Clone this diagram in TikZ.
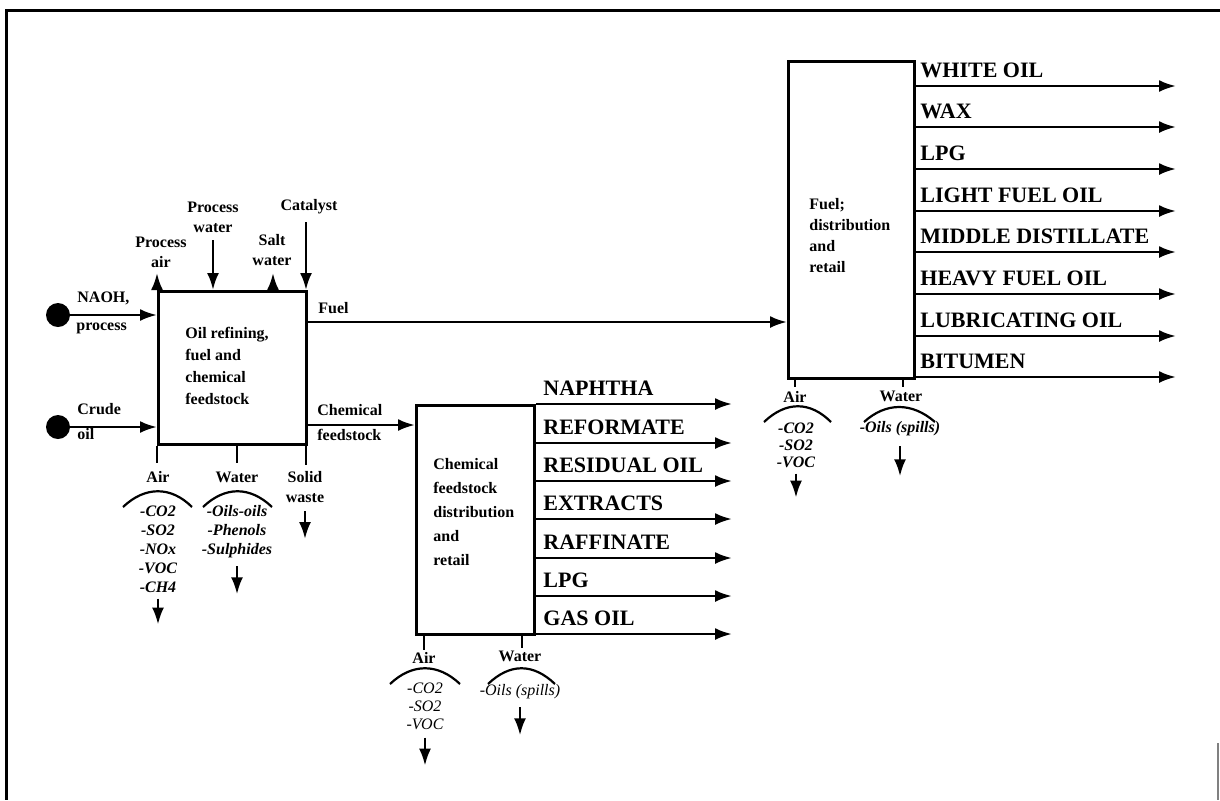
\documentclass[tikz,border=0pt]{standalone}
\usepackage{fontspec}
\setmainfont{Liberation Serif}
\usetikzlibrary{arrows.meta}
\begin{document}
\begin{tikzpicture}[x=0.5pt,y=-0.5pt,
  arr/.style={line width=1.3pt,-{Latex[length=8.5pt,width=6pt]}},
  ln/.style={line width=1.3pt},
  arcl/.style={line width=1.1pt},
  box/.style={draw,line width=1.5pt,rectangle,anchor=north west,inner sep=0pt},
  big/.style={font=\bfseries\fontsize{11}{13}\selectfont,anchor=base west,inner sep=0pt},
  lab/.style={font=\bfseries\fontsize{8}{10}\selectfont,align=center,inner sep=0pt},
  boxtxt/.style={font=\bfseries\fontsize{8}{11}\selectfont,align=left,anchor=north west,inner sep=0pt},
  emis/.style={font=\bfseries\itshape\fontsize{8}{9.5}\selectfont,align=center,anchor=north,inner sep=0pt},
  emisr/.style={font=\itshape\fontsize{8}{9}\selectfont,align=center,anchor=north,inner sep=0pt},
  dot/.style={circle,fill,inner sep=0pt,minimum size=12pt},
]
\useasboundingbox (0,0) rectangle (1220,800);
% frame
\draw[line width=1.5pt] (1220,10) -- (6,10) -- (6,800);
\draw[gray,line width=0.8pt] (1218,743) -- (1218,800);

% boxes
\node[box,minimum width=74pt,minimum height=76.5pt] (b1) at (157,290) {};
\node[box,minimum width=59pt,minimum height=114.5pt] (b2) at (415,404) {};
\node[box,minimum width=63pt,minimum height=158.5pt] (b3) at (787,60) {};

\node[boxtxt] (t1) at (185,327) {Oil refining,\\fuel and\\chemical\\feedstock};
\node[boxtxt,font=\bfseries\fontsize{8}{12}\selectfont] (t2) at (433,458) {Chemical\\feedstock\\distribution\\and\\retail};
\node[boxtxt,font=\bfseries\fontsize{8}{10.5}\selectfont] (t3) at (809,198) {Fuel;\\distribution\\and\\retail};

% left inputs
\node[dot] (naoh) at (58,315) {};
\node[dot] (crude) at (58,427) {};
\draw[arr] (naoh.east) -- (naoh -| b1.west);
\draw[arr] (crude.east) -- (crude -| b1.west);
\node[lab,anchor=west] (ln1) at (77,298) {NAOH,};
\node[lab,anchor=west] (ln2) at (76,328) {process};
\node[lab,anchor=west] (lc1) at (77,409) {Crude};
\node[lab,anchor=west] (lc2) at (77,434) {oil};

% top inputs
\coordinate (pa) at (157,273);
\coordinate (pw) at (213,240);
\coordinate (sw) at (273,273);
\coordinate (ca) at (306,222);
\draw[arr] (pa |- b1.north) -- (pa);
\draw[arr] (pw) -- (pw |- b1.north);
\draw[arr] (sw |- b1.north) -- (sw);
\draw[arr] (ca) -- (ca |- b1.north);
\node[lab] (lpa) at (161,252) {Process\\air};
\node[lab] (lpw) at (213,217) {Process\\water};
\node[lab] (lsw) at (272,250) {Salt\\water};
\node[lab] (lca) at (309,207) {Catalyst};

% main flows
\coordinate (fy) at (0,322);
\coordinate (cy) at (0,425);
\draw[arr] (b1.east |- fy) -- (b3.west |- fy);
\draw[arr] (b1.east |- cy) -- (b2.west |- cy);
\node[lab,anchor=west] (lfu) at (318,308) {Fuel};
\node[lab,anchor=west] (lcf1) at (317,410) {Chemical};
\node[lab,anchor=west] (lcf2) at (317,435) {feedstock};

% chemical outputs
\foreach \y/\t [count=\i] in {404/NAPHTHA,443/REFORMATE,481/RESIDUAL OIL,519/EXTRACTS,558/RAFFINATE,596/LPG,634/GAS OIL}{
  \coordinate (co\i) at (732,\y);
  \draw[arr] (co\i -| b2.east) -- (co\i);
  \node[big] (lco\i) at (543,\y-9) {\t};
}
% fuel outputs
\foreach \y/\t [count=\i] in {86/WHITE OIL,127/WAX,169/LPG,211/LIGHT FUEL OIL,252/MIDDLE DISTILLATE,294/HEAVY FUEL OIL,336/LUBRICATING OIL,377/BITUMEN}{
  \coordinate (fo\i) at (1176,\y);
  \draw[arr] (fo\i -| b3.east) -- (fo\i);
  \node[big] (lfo\i) at (920,\y-9) {\t};
}

% box 1 emissions
\coordinate (a1) at (157,463);
\coordinate (w1) at (237,463);
\coordinate (s1) at (306,465);
\draw[ln] (a1 |- b1.south) -- (a1);
\draw[ln] (w1 |- b1.south) -- (w1);
\draw[ln] (s1 |- b1.south) -- (s1);
\node[lab] (la1) at (158,477) {Air};
\node[lab] (lw1) at (237,477) {Water};
\node[lab] (ls1) at (305,487) {Solid\\waste};
\draw[arcl] (123,507) .. controls (145,486) and (171,486) .. (192,507);
\draw[arcl] (203,507) .. controls (225,486) and (250,486) .. (272,507);
\node[emis] (e1) at (158,505) {-CO2\\-SO2\\-NOx\\-VOC\\-CH4};
\node[emis] (e2) at (237,505) {-Oils-oils\\-Phenols\\-Sulphides};
\draw[arr] ([yshift=-3pt]e1.south) -- ++(0,26);
\draw[arr] ([yshift=-4pt]e2.south) -- ++(0,28);
\draw[arr] ([yshift=-4pt]ls1.south) -- ++(0,28);

% box 2 emissions
\coordinate (a2) at (424,650);
\coordinate (w2) at (522,648);
\draw[ln] (a2 |- b2.south) -- (a2);
\draw[line width=0.8pt] (w2 |- b2.south) -- (w2);
\node[lab] (la2) at (424,658) {Air};
\node[lab] (lw2) at (520,656) {Water};
\draw[arcl] (390,684) .. controls (412,663) and (438,663) .. (460,684);
\draw[arcl] (488,684) .. controls (510,663) and (533,663) .. (555,684);
\node[emisr] (e3) at (425,682) {-CO2\\-SO2\\-VOC};
\node[emisr] (e4) at (520,684) {-Oils (spills)};
\draw[arr] ([yshift=-4pt]e3.south) -- ++(0,28);
\draw[arr] ([yshift=-4pt]e4.south) -- ++(0,28);

% box 3 emissions
\coordinate (a3) at (795,387);
\coordinate (w3) at (903,387);
\draw[ln] (a3 |- b3.south) -- (a3);
\draw[ln] (w3 |- b3.south) -- (w3);
\node[lab] (la3) at (795,397) {Air};
\node[lab] (lw3) at (901,396) {Water};
\draw[arcl] (764,422) .. controls (786,401) and (810,401) .. (831,422);
\draw[arcl] (864,422) .. controls (886,402) and (912,402) .. (935,422);
\node[emis,font=\bfseries\itshape\fontsize{8}{8.5}\selectfont] (e5) at (796,422) {-CO2\\-SO2\\-VOC};
\node[emis] (e6) at (900,421) {-Oils (spills)};
\draw[arr] ([yshift=-3pt]e5.south) -- ++(0,24);
\draw[arr] ([yshift=-5pt]e6.south) -- ++(0,30);
\end{tikzpicture}
\end{document}
